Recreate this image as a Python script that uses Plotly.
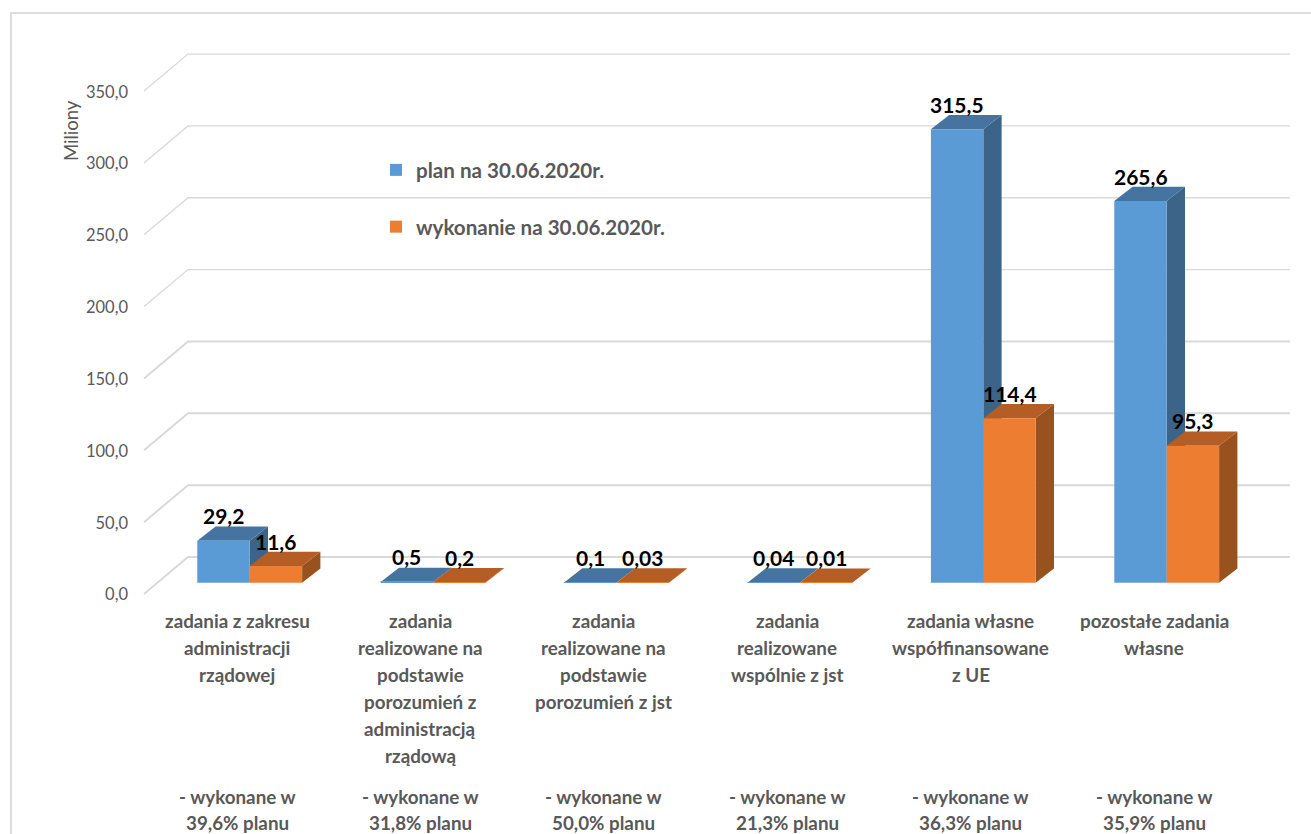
import plotly.graph_objects as go

# ---- data ----
category_lines = [
    ["zadania z zakresu", "administracji", "rządowej"],
    ["zadania", "realizowane na", "podstawie", "porozumień z", "administracją", "rządową"],
    ["zadania", "realizowane na", "podstawie", "porozumień z jst"],
    ["zadania", "realizowane", "wspólnie z jst"],
    ["zadania własne", "współfinansowane", "z UE"],
    ["pozostałe zadania", "własne"],
]
percent_notes = ["39,6%", "31,8%", "50,0%", "21,3%", "36,3%", "35,9%"]
plan_values = [29.2, 0.5, 0.1, 0.04, 315.5, 265.6]
done_values = [11.6, 0.2, 0.03, 0.01, 114.4, 95.3]
plan_labels = ["29,2", "0,5", "0,1", "0,04", "315,5", "265,6"]
done_labels = ["11,6", "0,2", "0,03", "0,01", "114,4", "95,3"]
y_ticks = [0, 50, 100, 150, 200, 250, 300, 350]
series_names = ["plan na 30.06.2020r.", "wykonanie na 30.06.2020r."]

# ---- layout constants ----
W, H = 1311, 834
L, R, T, B = 135, 1300, 40, 600
PX_PER_CAT = 183.4
PX_PER_UNIT = 1.437
X0_PX, Y0_PX = 249.7, 582.7
BAR_W = 52.4 / PX_PER_CAT
DX, DY = 18.3 / PX_PER_CAT, 14.3 / PX_PER_UNIT


def cat_from_px(px):
    return (px - X0_PX) / PX_PER_CAT


def val_from_px(py):
    return (Y0_PX - py) / PX_PER_UNIT


def paper_x(px):
    return (px - L) / (R - L)


def paper_y(py):
    return (B - py) / (B - T)


GRID = "#D9D9D9"
TEXT = "#595959"
FONT = "Lato"
PALETTE = {
    "plan": ("#5B9BD5", "#44749F", "#3B6488"),
    "done": ("#ED7D31", "#B45D24", "#98521E"),
}

xs = list(range(len(plan_values)))
shapes = []

# back wall gridlines and left wall diagonals
wall_front_x, wall_back_x, wall_right_x = cat_from_px(144), cat_from_px(188), cat_from_px(1290)
front_shift, back_shift = val_from_px(594), val_from_px(557)
for v in y_ticks:
    w = 2 if v < 200 else 1.3
    path = (f"M {wall_front_x},{v + front_shift} L {wall_back_x},{v + back_shift} "
            f"L {wall_right_x},{v + back_shift}")
    shapes.append(dict(type="path", path=path, line=dict(color=GRID, width=w), layer="below"))


def add_faces(values, left_of, colors):
    _, top, side = colors
    for i, v in enumerate(values):
        x0 = i + left_of
        x1 = x0 + BAR_W
        side_path = (f"M {x1},{0} L {x1 + DX},{DY} L {x1 + DX},{v + DY} L {x1},{v} Z")
        top_path = (f"M {x0},{v} L {x1},{v} L {x1 + DX},{v + DY} L {x0 + DX},{v + DY} Z")
        shapes.append(dict(type="path", path=side_path, fillcolor=side, line_width=0, layer="below"))
        shapes.append(dict(type="path", path=top_path, fillcolor=top, line_width=0, layer="below"))


add_faces(plan_values, -BAR_W, PALETTE["plan"])
add_faces(done_values, 0, PALETTE["done"])

# outer frame
shapes.append(dict(type="rect", xref="paper", yref="paper",
                   x0=paper_x(11), x1=paper_x(1330), y0=paper_y(13), y1=paper_y(860),
                   line=dict(color="#DDDDDD", width=2), layer="below"))

fig = go.Figure()
fig.add_bar(x=xs, y=plan_values, name=series_names[0], marker=dict(color=PALETTE["plan"][0], line_width=0),
            legendgroup="a", hoverinfo="skip")
fig.add_bar(x=xs, y=done_values, name=series_names[1], marker=dict(color=PALETTE["done"][0], line_width=0),
            legendgroup="b", hoverinfo="skip")

annotations = []
# data labels
for i in xs:
    for v, t, off in ((plan_values[i], plan_labels[i], -BAR_W / 2), (done_values[i], done_labels[i], BAR_W / 2)):
        annotations.append(dict(x=i + off, y=v, text=f"<b>{t}</b>", showarrow=False, yanchor="middle",
                                yshift=25, font=dict(family=FONT, size=21, color="#000000")))

# category labels, one annotation per line to keep the original line pitch
LABEL_OFFSET = (237 - 249.7) / PX_PER_CAT
for i, lines in enumerate(category_lines):
    for j, line in enumerate(lines):
        annotations.append(dict(x=i + LABEL_OFFSET, xref="x", y=paper_y(620 + 27 * j), yref="paper",
                                text=f"<b>{line}</b>", showarrow=False, yanchor="middle", borderpad=0,
                                font=dict(family=FONT, size=18.8, color=TEXT)))
    for line, py in ((f"- wykonane w", 796), (f"{percent_notes[i]} planu", 822)):
        annotations.append(dict(x=i + LABEL_OFFSET, xref="x", y=paper_y(py), yref="paper",
                                text=f"<b>{line}</b>", showarrow=False, yanchor="middle", borderpad=0,
                                font=dict(family=FONT, size=18.8, color=TEXT)))

annotations.append(dict(x=paper_x(71), y=paper_y(131), xref="paper", yref="paper", text="Miliony",
                        xanchor="center", yanchor="middle",
                        showarrow=False, textangle=-90, font=dict(family=FONT, size=18.5, color=TEXT)))

fig.update_layout(
    width=W, height=H,
    margin=dict(l=L, r=W - R, t=T, b=H - B, pad=0),
    paper_bgcolor="white", plot_bgcolor="rgba(0,0,0,0)",
    font=dict(family=FONT, color=TEXT),
    separators=", ",
    barmode="group", bargap=1 - 2 * BAR_W, bargroupgap=0,
    shapes=shapes, annotations=annotations,
    showlegend=True,
    legend=dict(x=paper_x(376), y=paper_y(150), xanchor="left", yanchor="top",
                bgcolor="rgba(0,0,0,0)", tracegroupgap=27, traceorder="grouped",
                font=dict(family=FONT, size=20.6, color=TEXT, weight="bold")),
    xaxis=dict(range=[cat_from_px(L), cat_from_px(R)], showticklabels=False, showgrid=False,
               zeroline=False, showline=False, ticks=""),
    yaxis=dict(range=[val_from_px(B), val_from_px(T)], tickvals=y_ticks, tickformat=".1f",
               showgrid=False, zeroline=False, showline=False, ticks="",
               ticklabelshift=12, ticklabelstandoff=6,
               tickfont=dict(family=FONT, size=16.5, color=TEXT)),
)

fig.write_html("out.html", config={"displayModeBar": False},
               post_script="document.body.style.margin='0';document.body.style.overflow='hidden';")
